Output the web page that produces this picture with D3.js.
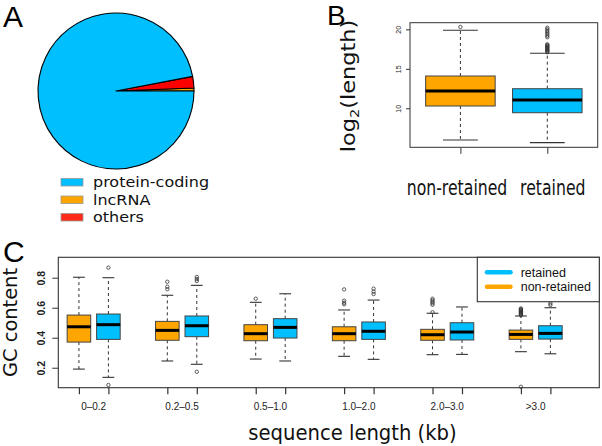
<!DOCTYPE html>
<html><head><meta charset="utf-8">
<script src="https://cdn.jsdelivr.net/npm/d3@7"></script>
<style>body{margin:0;background:#fff}svg{display:block}</style>
</head><body>
<script>
// ---------- Panel A data ----------
const pieLabels = ["protein-coding", "lncRNA", "others"];
const pieValues = [97.0, 0.6, 2.4];
const pieColors = ["#00BFFF", "#FFA500", "#FF0000"];
const pieDrawOrder = ["lncRNA", "others", "protein-coding"]; // counter-clockwise from 3 o'clock

// ---------- Panel B data ----------
const bCategories = ["non-retained", "retained"];
const bColors = ["#FFA500", "#00BFFF"];
const bLow = [5.99, 5.65];
const bQ1 = [10.29, 9.44];
const bMed = [12.19, 11.05];
const bQ3 = [14.09, 12.48];
const bHigh = [19.88, 16.98];
const bOutliers = [
  [20.3],
  [17.1, 17.2, 17.3, 17.4, 17.5, 17.6, 17.7, 17.8, 17.9, 18.0, 18.1, 19.0, 19.2, 19.4, 19.6, 19.8, 20.0, 20.2]
];
const bYTicks = [10, 15, 20];

// ---------- Panel C data ----------
const cGroups = ["0\u20130.2", "0.2\u20130.5", "0.5\u20131.0", "1.0\u20132.0", "2.0\u20133.0", ">3.0"];
const cSeries = ["retained", "non-retained"];
const cColors = { "retained": "#00BFFF", "non-retained": "#FFA500" };
// non-retained
const nrLow  = [0.191, 0.245, 0.258, 0.276, 0.287, 0.307];
const nrQ1   = [0.371, 0.383, 0.380, 0.380, 0.383, 0.389];
const nrMed  = [0.473, 0.449, 0.427, 0.427, 0.420, 0.422];
const nrQ3   = [0.551, 0.509, 0.487, 0.473, 0.456, 0.451];
const nrHigh = [0.803, 0.683, 0.636, 0.585, 0.563, 0.545];
const nrOut  = [
  [],
  [0.773, 0.740, 0.723],
  [0.660],
  [0.722, 0.647, 0.633, 0.623],
  [0.570, 0.620, 0.630, 0.640, 0.650, 0.660],
  [0.550, 0.555, 0.560, 0.565, 0.570, 0.575, 0.580, 0.585, 0.590, 0.595, 0.073]
];
// retained
const rtLow  = [0.136, 0.223, 0.245, 0.256, 0.289, 0.293];
const rtQ1   = [0.389, 0.407, 0.398, 0.389, 0.385, 0.391];
const rtMed  = [0.487, 0.480, 0.469, 0.443, 0.438, 0.429];
const rtQ3   = [0.558, 0.545, 0.527, 0.505, 0.500, 0.480];
const rtHigh = [0.800, 0.749, 0.693, 0.651, 0.605, 0.600];
const rtOut  = [
  [0.867, 0.085],
  [0.805, 0.791, 0.778, 0.173],
  [],
  [0.727, 0.707, 0.691],
  [],
  [0.629, 0.618]
];
const cYTicks = [0.2, 0.4, 0.6, 0.8];

const svg = d3.select("body").append("svg").attr("width", 602).attr("height", 446);
svg.append("rect").attr("width", 602).attr("height", 446).attr("fill", "#fff");

const SANS = "'Liberation Sans', Arial, sans-serif";
const DJV = "'DejaVu Sans', sans-serif";

function panelLetter(t, x, y, size) {
  svg.append("text").attr("x", x).attr("y", y).attr("font-family", SANS)
    .attr("font-size", size).attr("fill", "#000").text(t);
}
panelLetter("A", 3, 27, 30);
panelLetter("B", 327, 25, 28);
panelLetter("C", 3, 262, 30);

// ---------- Panel A ----------
(function () {
  const cx = 116, cy = 91, r = 78;
  const data = pieDrawOrder.map(l => ({ label: l, value: pieValues[pieLabels.indexOf(l)], color: pieColors[pieLabels.indexOf(l)] }));
  const pie = d3.pie().sort(null).value(d => d.value)
    .startAngle(Math.PI / 2).endAngle(Math.PI / 2 - 2 * Math.PI);
  const arc = d3.arc().innerRadius(0).outerRadius(r);
  const g = svg.append("g").attr("transform", `translate(${cx},${cy})`);
  g.selectAll("path").data(pie(data)).join("path")
    .attr("d", arc).attr("fill", d => d.data.color)
    .attr("stroke", "#000").attr("stroke-width", 1.1).attr("stroke-linejoin", "round");

  const lg = svg.append("g");
  const baselines = [187, 204.5, 222];
  pieLabels.forEach((l, i) => {
    lg.append("rect").attr("x", 61).attr("y", baselines[i] - 8.5).attr("width", 22).attr("height", 7.5)
      .attr("fill", pieColors[i] === "#FF0000" ? "#FF2A1A" : pieColors[i]).attr("stroke", "#9a9a9a").attr("stroke-width", 0.8);
    lg.append("text").attr("transform", `translate(93,${baselines[i]}) scale(1,0.88)`)
      .attr("font-family", DJV).attr("font-size", 16).attr("fill", "#111").text(l);
  });
})();

// ---------- box drawing helper ----------
function drawBox(g, cx, halfW, stapleHalf, y, s, color, rOut) {
  g.append("line").attr("x1", cx).attr("x2", cx).attr("y1", y(s.q3)).attr("y2", y(s.high))
    .attr("stroke", "#333").attr("stroke-width", 1).attr("stroke-dasharray", "3,3");
  g.append("line").attr("x1", cx).attr("x2", cx).attr("y1", y(s.q1)).attr("y2", y(s.low))
    .attr("stroke", "#333").attr("stroke-width", 1).attr("stroke-dasharray", "3,3");
  [s.high, s.low].forEach(v => g.append("line").attr("x1", cx - stapleHalf).attr("x2", cx + stapleHalf)
    .attr("y1", y(v)).attr("y2", y(v)).attr("stroke", "#333").attr("stroke-width", 1.1));
  g.append("rect").attr("x", cx - halfW).attr("width", 2 * halfW)
    .attr("y", y(s.q3)).attr("height", y(s.q1) - y(s.q3))
    .attr("fill", color).attr("stroke", "#444").attr("stroke-width", 1);
  g.append("line").attr("x1", cx - halfW).attr("x2", cx + halfW).attr("y1", y(s.med)).attr("y2", y(s.med))
    .attr("stroke", "#000").attr("stroke-width", 3);
  s.out.forEach(v => g.append("circle").attr("cx", cx).attr("cy", y(v)).attr("r", rOut)
    .attr("fill", "none").attr("stroke", "#333").attr("stroke-width", 0.8));
}

// ---------- Panel B ----------
(function () {
  const x = d3.scaleLinear().domain([0.42, 2.58]).range([410, 597.7]);
  const y = d3.scaleLinear().domain([5.06, 20.84]).range([147.3, 22.7]);
  const g = svg.append("g");
  const unit = x(1) - x(0);
  bCategories.forEach((c, i) => {
    drawBox(g, x(i + 1), 0.4 * unit, 0.2 * unit, y,
      { low: bLow[i], q1: bQ1[i], med: bMed[i], q3: bQ3[i], high: bHigh[i], out: bOutliers[i] },
      bColors[i], 1.7);
  });
  g.append("rect").attr("x", 410).attr("y", 22.7).attr("width", 597.7 - 410).attr("height", 147.3 - 22.7)
    .attr("fill", "none").attr("stroke", "#333").attr("stroke-width", 1);
  const ya = svg.append("g").attr("transform", "translate(410,0)")
    .call(d3.axisLeft(y).tickValues(bYTicks).tickSize(4).tickFormat(d3.format("d")));
  ya.select(".domain").remove();
  ya.selectAll(".tick line").attr("stroke", "#333");
  ya.selectAll(".tick text").attr("x", null).attr("dy", null)
    .attr("transform", "translate(-9,0) rotate(-90)").attr("text-anchor", "middle")
    .attr("font-family", SANS).attr("font-size", 7).attr("fill", "#222");
  const xa = svg.append("g").attr("transform", "translate(0,147.3)")
    .call(d3.axisBottom(x).tickValues([1, 2]).tickSize(6.5).tickFormat(""));
  xa.select(".domain").remove();
  xa.selectAll(".tick line").attr("stroke", "#333");
  const labX = [457, 552.8];
  bCategories.forEach((c, i) => {
    svg.append("text").attr("transform", `translate(${labX[i]},195) scale(1,1.3)`).attr("text-anchor", "middle")
      .attr("font-family", DJV).attr("font-size", 15.7).attr("fill", "#111").text(c);
  });
  const yl = svg.append("text").attr("transform", "translate(355,86) scale(0.84,1) rotate(-90)")
    .attr("text-anchor", "middle").attr("font-family", DJV).attr("font-size", 22.5).attr("fill", "#111");
  yl.append("tspan").text("log");
  yl.append("tspan").attr("font-size", 14.5).attr("dy", 5).text("2");
  yl.append("tspan").attr("dy", -5).text("(length)");
})();

// ---------- Panel C ----------
(function () {
  const x = d3.scaleLinear().domain([0.3, 18.66]).range([58.3, 599.3]);
  const y = d3.scaleLinear().domain([0.067, 0.936]).range([387.7, 257.3]);
  const unit = x(1) - x(0);
  const g = svg.append("g");
  const positions = [];
  cGroups.forEach((grp, i) => {
    const pNR = 3 * i + 1, pRT = 3 * i + 2;
    positions.push(pNR, pRT);
    drawBox(g, x(pNR), 0.4 * unit, 0.2 * unit, y,
      { low: nrLow[i], q1: nrQ1[i], med: nrMed[i], q3: nrQ3[i], high: nrHigh[i], out: nrOut[i] },
      cColors["non-retained"], 1.7);
    drawBox(g, x(pRT), 0.4 * unit, 0.2 * unit, y,
      { low: rtLow[i], q1: rtQ1[i], med: rtMed[i], q3: rtQ3[i], high: rtHigh[i], out: rtOut[i] },
      cColors["retained"], 1.7);
  });
  g.append("rect").attr("x", 58.3).attr("y", 257.3).attr("width", 599.3 - 58.3).attr("height", 387.7 - 257.3)
    .attr("fill", "none").attr("stroke", "#333").attr("stroke-width", 1.1);
  const ya = svg.append("g").attr("transform", "translate(58.3,0)")
    .call(d3.axisLeft(y).tickValues(cYTicks).tickSize(6).tickFormat(d3.format(".1f")));
  ya.select(".domain").remove();
  ya.selectAll(".tick line").attr("stroke", "#333");
  ya.selectAll(".tick text").attr("x", null).attr("dy", null)
    .attr("transform", "translate(-13.5,0) rotate(-90)").attr("text-anchor", "middle")
    .attr("font-family", SANS).attr("font-size", 10.5).attr("font-weight", "bold").attr("fill", "#222");
  const xa = svg.append("g").attr("transform", "translate(0,387.7)")
    .call(d3.axisBottom(x).tickValues(positions).tickSize(6.5).tickFormat(""));
  xa.select(".domain").remove();
  xa.selectAll(".tick line").attr("stroke", "#333").attr("stroke-width", 1.2);
  cGroups.forEach((grp, i) => {
    svg.append("text").attr("x", x(3 * i + 1.5)).attr("y", 410).attr("text-anchor", "middle")
      .attr("font-family", SANS).attr("font-size", 10).attr("fill", "#222").text(grp);
  });
  svg.append("text").attr("transform", "translate(352.5,440) scale(1,1.05)").attr("text-anchor", "middle")
    .attr("font-family", DJV).attr("font-size", 19.6).attr("fill", "#111").text("sequence length (kb)");
  svg.append("text").attr("transform", "translate(16.5,322.5) rotate(-90)").attr("text-anchor", "middle")
    .attr("font-family", DJV).attr("font-size", 19.4).attr("fill", "#111").text("GC content");
  const lg = svg.append("g");
  lg.append("rect").attr("x", 477.3).attr("y", 257.3).attr("width", 599.3 - 477.3).attr("height", 301.7 - 257.3)
    .attr("fill", "#fff").attr("stroke", "#333").attr("stroke-width", 1.1);
  const rowY = [272.3, 286.7];
  cSeries.forEach((s, i) => {
    lg.append("line").attr("x1", 487).attr("x2", 510.5).attr("y1", rowY[i]).attr("y2", rowY[i])
      .attr("stroke", cColors[s]).attr("stroke-width", 4.5).attr("stroke-linecap", "round");
    lg.append("text").attr("x", 520.7).attr("y", rowY[i] + 4.5)
      .attr("font-family", SANS).attr("font-size", 12.5).attr("fill", "#111").text(s);
  });
})();
</script>
</body></html>
